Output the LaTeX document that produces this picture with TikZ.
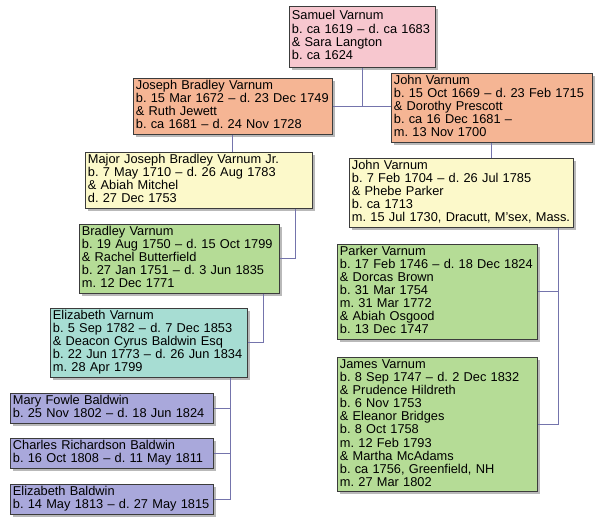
\documentclass[tikz,border=0pt]{standalone}
\usepackage{fontspec}
\setmainfont{Liberation Sans}
\usepackage{tikz}
\usetikzlibrary{positioning,calc,shadows}
\definecolor{linkc}{HTML}{7474AC}
\definecolor{edge}{HTML}{3C3C3C}
\definecolor{gpink}{HTML}{F7C7CF}
\definecolor{gsalmon}{HTML}{F5B594}
\definecolor{gyellow}{HTML}{FCF9CA}
\definecolor{ggreen}{HTML}{B5DC96}
\definecolor{gteal}{HTML}{A7DDD3}
\definecolor{glav}{HTML}{A9A8DB}
\newcommand{\who}[1]{\begin{tabular}{@{}l@{}}#1\end{tabular}}
\tikzset{
  person/.style={draw=edge,line width=0.8pt,anchor=north west,align=left,
                 inner xsep=2.5pt,inner ysep=1.5pt,
                 font=\fontsize{12.8}{13}\selectfont\frenchspacing,
                 drop shadow={shadow xshift=2.5pt,shadow yshift=-2.5pt,
                              fill=black!50,opacity=.55}},
  link/.style  ={draw=linkc,line width=0.9pt}
}
\begin{document}
\begin{tikzpicture}[x=1pt,y=-1pt]
    \fill[white] (0,0) rectangle (600,523);
    % generations, top to bottom
    \node[person,fill=gpink,text width=141pt,minimum height=61pt] (samuel) at (289,6)
      {\who{Samuel Varnum\\b. ca 1619 -- d. ca 1683\\\& Sara Langton\\b. ca 1624}};
    \node[person,fill=gsalmon,text width=194pt,minimum height=55pt] (joseph) at (133,78)
      {\who{Joseph Bradley Varnum\\b. 15 Mar 1672 -- d. 23 Dec 1749\\\& Ruth Jewett\\b. ca 1681 -- d. 24 Nov 1728}};
    \node[person,fill=gsalmon,text width=196pt,minimum height=67pt] (john) at (391,73)
      {\who{John Varnum\\b. 15 Oct 1669 -- d. 23 Feb 1715\\\& Dorothy Prescott\\b. ca 16 Dec 1681 --\\m. 13 Nov 1700}};
    \node[person,fill=gyellow,text width=222pt,minimum height=55pt] (major) at (85,152)
      {\who{Major Joseph Bradley Varnum Jr.\\b. 7 May 1710 -- d. 26 Aug 1783\\\& Abiah Mitchel\\d. 27 Dec 1753}};
    \node[person,fill=gyellow,text width=219pt,minimum height=68pt] (johnjr) at (349,158)
      {\who{John Varnum\\b. 7 Feb 1704 -- d. 26 Jul 1785\\\& Phebe Parker\\b. ca 1713\\m. 15 Jul 1730, Dracutt, M'sex, Mass.}};
    \node[person,fill=ggreen,text width=195pt,minimum height=68pt] (bradley) at (79,224)
      {\who{Bradley Varnum\\b. 19 Aug 1750 -- d. 15 Oct 1799\\\& Rachel Butterfield\\b. 27 Jan 1751 -- d. 3 Jun 1835\\m. 12 Dec 1771}};
    \node[person,fill=ggreen,text width=195pt,minimum height=94pt] (parker) at (337,244)
      {\who{Parker Varnum\\b. 17 Feb 1746 -- d. 18 Dec 1824\\\& Dorcas Brown\\b. 31 Mar 1754\\m. 31 Mar 1772\\\& Abiah Osgood\\b. 13 Dec 1747}};
    \node[person,fill=ggreen,text width=195pt,minimum height=133pt] (james) at (337,357)
      {\who{James Varnum\\b. 8 Sep 1747 -- d. 2 Dec 1832\\\& Prudence Hildreth\\b. 6 Nov 1753\\\& Eleanor Bridges\\b. 8 Oct 1758\\m. 12 Feb 1793\\\& Martha McAdams\\b. ca 1756, Greenfield, NH\\m. 27 Mar 1802}};
    \node[person,fill=gteal,text width=192pt,minimum height=69pt] (elizabeth) at (50,308)
      {\who{Elizabeth Varnum\\b. 5 Sep 1782 -- d. 7 Dec 1853\\\& Deacon Cyrus Baldwin Esq\\b. 22 Jun 1773 -- d. 26 Jun 1834\\m. 28 Apr 1799}};
    \node[person,fill=glav,text width=198pt,minimum height=30pt] (mary) at (10,393)
      {\who{Mary Fowle Baldwin\\b. 25 Nov 1802 -- d. 18 Jun 1824}};
    \node[person,fill=glav,text width=198pt,minimum height=30pt] (charles) at (10,438)
      {\who{Charles Richardson Baldwin\\b. 16 Oct 1808 -- d. 11 May 1811}};
    \node[person,fill=glav,text width=198pt,minimum height=30pt] (elizb) at (10,484)
      {\who{Elizabeth Baldwin\\b. 14 May 1813 -- d. 27 May 1815}};
    % connectors
    \draw[link] (joseph.east) -- (joseph.east -| john.west);
    \draw[link] (samuel.south) -- (samuel.south |- joseph.east);
    \draw[link] (joseph.south) -- (joseph.south |- major.north);
    \draw[link] (john.south) -- (john.south |- johnjr.north);
    \coordinate (c1) at ($(bradley.east)+(16,0)$);
    \draw[link] (c1 |- major.south) -- (c1) -- (bradley.east);
    \coordinate (c2) at ($(elizabeth.east)+(16,0)$);
    \draw[link] (c2 |- bradley.south) -- (c2) -- (elizabeth.east);
    \coordinate (c3) at ($(elizb.east)+(17,0)$);
    \draw[link] (c3 |- elizabeth.south) -- (c3) -- (elizb.east);
    \draw[link] (mary.east) -- (mary.east -| c3);
    \draw[link] (charles.east) -- (charles.east -| c3);
    \coordinate (c4) at ($(james.east)+(21,0)$);
    \draw[link] (c4 |- johnjr.south) -- (c4) -- (james.east);
    \draw[link] (parker.east) -- (parker.east -| c4);
\end{tikzpicture}
\end{document}
